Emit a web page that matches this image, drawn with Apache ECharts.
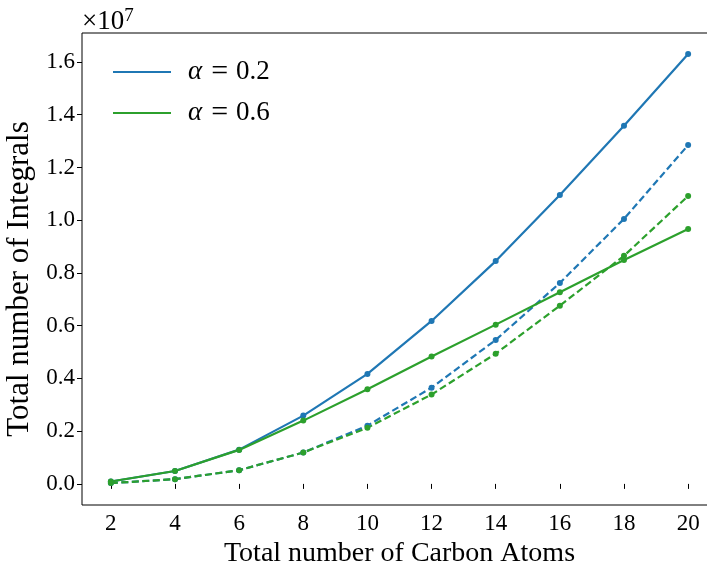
<!DOCTYPE html>
<html>
<head>
<meta charset="utf-8">
<script src="https://cdn.jsdelivr.net/npm/echarts@6/dist/echarts.min.js"></script>
<style>
  html, body { margin: 0; padding: 0; background: #fff; }
  #myChart { width: 707px; height: 563px; }
</style>
</head>
<body>
<div id="myChart"></div>
<script>
  // values in units of 1e7
  const carbonAtoms = [2, 4, 6, 8, 10, 12, 14, 16, 18, 20];
  const alpha02Solid = [0.009, 0.049, 0.130, 0.259, 0.417, 0.618, 0.845, 1.096, 1.358, 1.630];
  const alpha06Solid = [0.009, 0.049, 0.129, 0.240, 0.359, 0.483, 0.604, 0.727, 0.849, 0.967];
  const alpha02Dashed = [0.003, 0.018, 0.052, 0.119, 0.221, 0.365, 0.546, 0.762, 1.005, 1.285];
  const alpha06Dashed = [0.003, 0.018, 0.052, 0.119, 0.213, 0.339, 0.494, 0.676, 0.865, 1.092];
  const yTicks = [0, 0.2, 0.4, 0.6, 0.8, 1.0, 1.2, 1.4, 1.6];

  const BLUE = '#1f77b4';
  const GREEN = '#2ca02c';
  const FONT = 'Liberation Serif';

  function pairs(ys) {
    return carbonAtoms.map((x, i) => [x, ys[i]]);
  }

  function makeSeries(name, ys, color, dashed) {
    return {
      name: name,
      type: 'line',
      data: pairs(ys),
      symbol: 'circle',
      symbolSize: 6,
      showSymbol: true,
      animation: false,
      itemStyle: { color: color },
      lineStyle: { color: color, width: 2.2, type: dashed ? [7, 3.5] : 'solid' }
    };
  }

  let myChart = echarts.init(document.getElementById('myChart'));

  myChart.setOption({
    backgroundColor: '#fff',
    animation: false,
    title: {
      text: '{b|×10}{s|7}',
      left: 77,
      top: 2,
      textStyle: {
        fontFamily: FONT,
        fontWeight: 'normal',
        fontSize: 27,
        color: '#000',
        rich: {
          b: { fontSize: 27, fontFamily: FONT, color: '#000', lineHeight: 30 },
          s: { fontSize: 19, fontFamily: FONT, color: '#000', verticalAlign: 'top', lineHeight: 20 }
        }
      }
    },
    grid: {
      left: 82, top: 33, right: -10, bottom: 58,
      containLabel: false, outerBoundsMode: 'none',
      show: true, borderColor: '#000', borderWidth: 1, backgroundColor: 'transparent'
    },
    legend: {
      data: ['a02', 'a06'],
      orient: 'vertical',
      left: 108,
      top: 51,
      icon: 'rect',
      itemWidth: 58,
      itemHeight: 2,
      itemGap: 9,
      formatter: function (name) {
        return name === 'a02' ? '{a|α}{e|=}0.2' : '{a|α}{e|=}0.6';
      },
      textStyle: {
        fontFamily: FONT,
        fontSize: 27,
        color: '#000',
        lineHeight: 32,
        padding: [0, 0, 0, 12],
        rich: {
          a: { fontFamily: FONT, fontStyle: 'italic', fontSize: 27, color: '#000', lineHeight: 32 },
          e: { fontFamily: FONT, fontSize: 30, color: '#000', padding: [0, 8, 0, 9], lineHeight: 32 }
        }
      }
    },
    xAxis: {
      type: 'value',
      min: 1.1,
      max: 20.9,
      splitLine: { show: false },
      axisLine: { show: false },
      axisTick: { show: true, length: 5, lineStyle: { color: '#000' }, customValues: carbonAtoms },
      axisLabel: { customValues: carbonAtoms, fontFamily: FONT, fontSize: 23, color: '#000', margin: 7 },
      name: 'Total number of Carbon Atoms',
      nameLocation: 'middle',
      nameGap: 21,
      nameTextStyle: { fontFamily: FONT, fontSize: 28, color: '#000' }
    },
    yAxis: {
      type: 'value',
      min: -0.08,
      max: 1.71,
      splitLine: { show: false },
      axisLine: { show: false },
      axisTick: { show: true, length: 5, lineStyle: { color: '#000' }, customValues: yTicks },
      axisLabel: {
        customValues: yTicks, fontFamily: FONT, fontSize: 23, color: '#000', margin: 7,
        formatter: v => v.toFixed(1)
      },
      name: 'Total number of Integrals',
      nameLocation: 'middle',
      nameGap: 46,
      nameTextStyle: { fontFamily: FONT, fontSize: 31, color: '#000', padding: [0, 20, 0, 0] }
    },
    series: [
      makeSeries('a02', alpha02Solid, BLUE, false),
      makeSeries('a02d', alpha02Dashed, BLUE, true),
      makeSeries('a06', alpha06Solid, GREEN, false),
      makeSeries('a06d', alpha06Dashed, GREEN, true)
    ]
  });
</script>
</body>
</html>
